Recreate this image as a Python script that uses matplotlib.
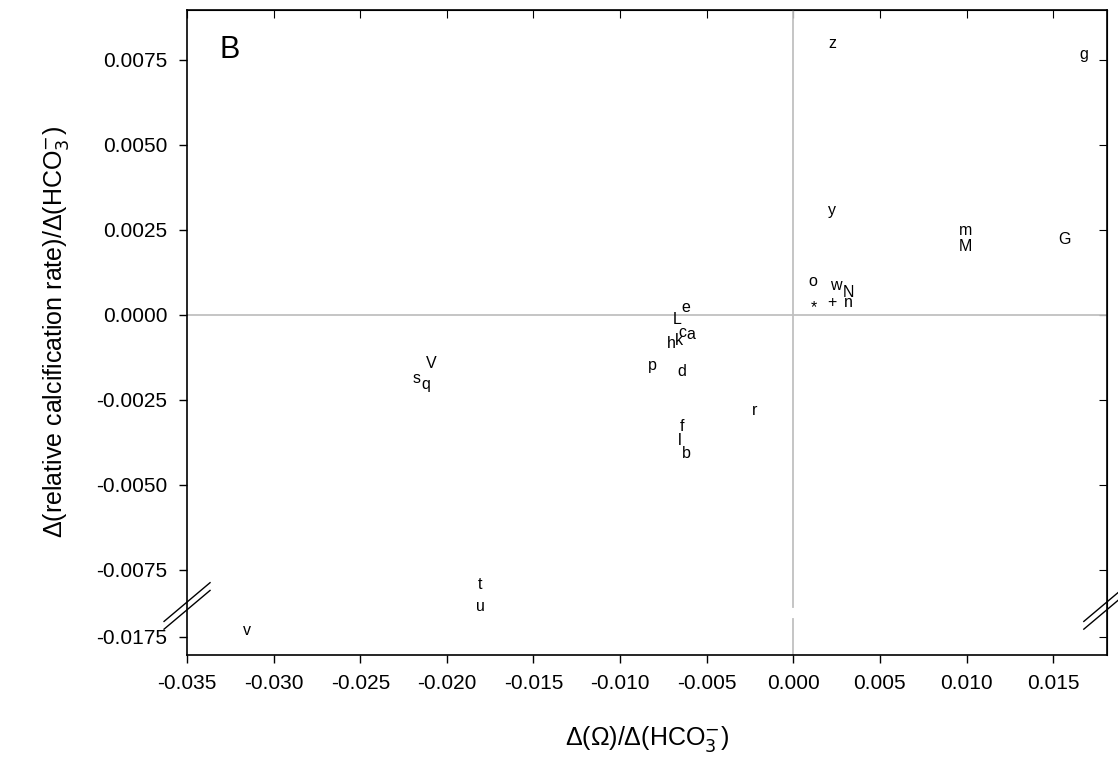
import matplotlib
matplotlib.use("Agg")
import matplotlib.pyplot as plt
import numpy as np

labels = ['z','g','y','m','M','G','o','w','N','*','+','n','e','L','c','a','h','k','p','d','r','f','l','b','V','s','q','t','u','v']
xv = [2.25,16.75,2.25,9.93,9.93,15.65,1.10,2.43,3.18,1.21,2.25,3.18,-6.18,-6.70,-6.41,-5.89,-7.05,-6.58,-8.14,-6.41,-2.25,-6.41,-6.58,-6.18,-20.91,-21.77,-21.20,-18.08,-18.08,-31.54]
yv = [7.97,7.65,3.06,2.47,2.00,2.21,0.97,0.85,0.65,0.21,0.35,0.35,0.21,-0.15,-0.53,-0.59,-0.85,-0.76,-1.50,-1.68,-2.82,-3.29,-3.71,-4.09,-1.44,-1.88,-2.06,-7.94,-8.59,-17.32]
xv = np.array(xv)/1000
yv = np.array(yv)/1000
yticks = [0.0075,0.005,0.0025,0.0,-0.0025,-0.005,-0.0075,-0.0175]
yticklabels = ['0.0075','0.0050','0.0025','0.0000','-0.0025','-0.0050','-0.0075','-0.0175']
xticks = [-0.035,-0.03,-0.025,-0.02,-0.015,-0.01,-0.005,0.0,0.005,0.01,0.015]

OFF = 0.00803
def ty(y):
    y = np.asarray(y, dtype=float)
    return np.where(y < -0.009, y + OFF, y)

plt.rcParams['font.family'] = ['Liberation Sans', 'DejaVu Sans']
fig = plt.figure(figsize=(11.18, 7.71), dpi=100)
ax = fig.add_axes([0.1673, 0.1505, 0.8227, 0.837])
xmin, xmax = -0.035, 0.0181
ymin, ymax = -0.0100, 0.00897
ax.set_xlim(xmin, xmax)
ax.set_ylim(ymin, ymax)
ax.axhline(0, color='#c0c0c0', lw=1.3, zorder=1)
ax.plot([0,0],[ymax,-0.00858],color='#c0c0c0',lw=1.3,zorder=1)
ax.plot([0,0],[-0.00893,ymin],color='#c0c0c0',lw=1.3,zorder=1)
for lab, x, y in zip(labels, xv, ty(yv)):
    ax.text(x, y, lab, ha='center', va='center', fontsize=11.5)
ax.set_xticks(xticks)
ax.set_xticklabels([f'{t:.3f}' for t in xticks])
ax.set_yticks(ty(yticks))
ax.set_yticklabels(yticklabels)
ax.tick_params(axis='both', labelsize=15, length=6, width=1, direction='out', pad=8)
for sp in ax.spines.values():
    sp.set_linewidth(1.2)
sec = ax.secondary_xaxis('top'); sec.set_xticks(xticks); sec.tick_params(direction='in', length=6); sec.set_xticklabels([])
sec2 = ax.secondary_yaxis('right'); sec2.set_yticks(ty(yticks)); sec2.tick_params(direction='in', length=6); sec2.set_yticklabels([])
for xa in (0.0, 1.0):
    for d in (0, 0.012):
        ax.plot([xa-0.025, xa+0.025], [0.04+d, 0.1+d], transform=ax.transAxes, color='black', lw=1, clip_on=False)
ax.text(0.035, 0.96, 'B', transform=ax.transAxes, fontsize=22, va='top', ha='left')
ax.set_xlabel('Δ(Ω)/Δ(HCO$_3^{-}$)', fontsize=18, labelpad=22)
ax.set_ylabel('Δ(relative calcification rate)/Δ(HCO$_3^{-}$)', fontsize=18, labelpad=18)
fig.savefig('out.png', dpi=100)
